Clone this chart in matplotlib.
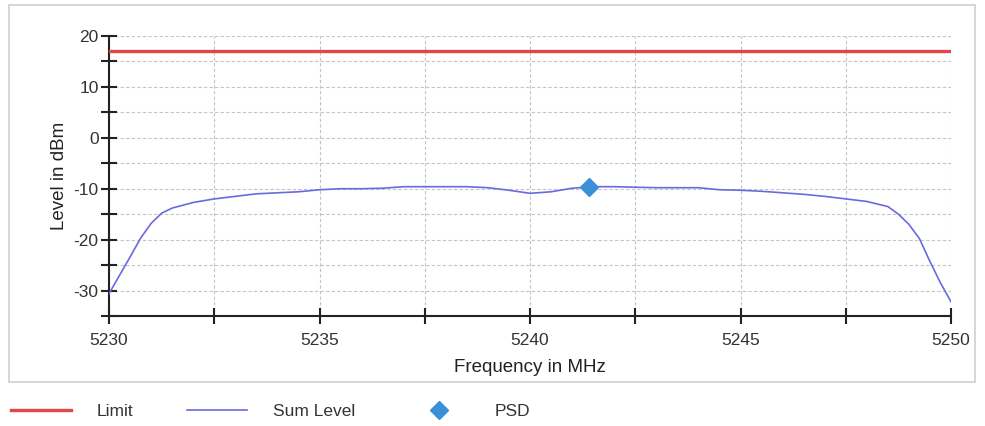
import numpy as np
import matplotlib
matplotlib.use("Agg")
from matplotlib import pyplot as plt
from matplotlib.patches import Rectangle
from matplotlib.ticker import MultipleLocator

plt.rcParams['font.family'] = ['Liberation Sans', 'DejaVu Sans']
plt.rcParams['axes.unicode_minus'] = False

# datos
freq = [5230, 5230.25, 5230.5, 5230.75, 5231, 5231.25, 5231.5, 5232, 5232.5, 5233,
        5233.5, 5234, 5234.5, 5235, 5235.5, 5236, 5236.5, 5237, 5237.5, 5238,
        5238.5, 5239, 5239.5, 5240, 5240.5, 5241, 5241.5, 5242, 5242.5, 5243,
        5243.5, 5244, 5244.5, 5245, 5245.5, 5246, 5246.5, 5247, 5247.5, 5248,
        5248.5, 5248.75, 5249, 5249.25, 5249.5, 5249.75, 5250]
sum_level = [-30.6, -27.0, -23.4, -19.7, -16.8, -14.8, -13.8, -12.7, -12.0, -11.5,
             -11.0, -10.8, -10.6, -10.2, -10.0, -10.0, -9.9, -9.6, -9.6, -9.6,
             -9.6, -9.8, -10.3, -10.9, -10.6, -9.9, -9.6, -9.6, -9.7, -9.8,
             -9.8, -9.8, -10.2, -10.3, -10.5, -10.8, -11.1, -11.5, -12.0, -12.5,
             -13.5, -15.0, -17.0, -19.8, -24.3, -28.5, -32.2]
limit_freq = [5230, 5250]
limit_level = [17, 17]
psd_freq = [5241.4]
psd_level = [-9.6]

fig = plt.figure(figsize=(9.85, 4.26), dpi=100)
ax = fig.add_axes([0.1107, 0.2582, 0.8548, 0.6573])

# marco exterior gris
fig.patches.append(Rectangle((9 / 985, 1 - 382 / 426), 966 / 985, 377 / 426,
                             transform=fig.transFigure, fill=False,
                             edgecolor="#cfcfcf", linewidth=1.2))

ax.plot(limit_freq, limit_level, color="#e04848", linewidth=2.4, label="Limit", zorder=3)
ax.plot(freq, sum_level, color="#6a6ae0", linewidth=1.2, label="Sum Level", zorder=4)
ax.plot(psd_freq, psd_level, linestyle="none", marker="D", markersize=9.5,
        color="#3a8fd8", label="PSD", zorder=5)

ax.set_xlim(5230, 5250)
ax.set_ylim(-35, 20)
ax.xaxis.set_major_locator(MultipleLocator(5))
ax.xaxis.set_minor_locator(MultipleLocator(2.5))
ax.yaxis.set_major_locator(MultipleLocator(10))
ax.yaxis.set_minor_locator(MultipleLocator(5))
ax.grid(True, which="both", color="#c4c4c4", linestyle=(0, (3, 2)), linewidth=0.8)
ax.set_axisbelow(True)

for s in ["top", "right"]:
    ax.spines[s].set_visible(False)
for s in ["left", "bottom"]:
    ax.spines[s].set_linewidth(1.5)
    ax.spines[s].set_color("#222222")

ax.tick_params(which="both", direction="inout", length=11, width=1.5, color="#222222",
               labelsize=12.5, labelcolor="#333333")
ax.tick_params(axis="x", pad=7)
ax.tick_params(axis="y", pad=2)
ax.set_xlabel("Frequency in MHz", fontsize=13.5, color="#222222", labelpad=8)
ax.set_ylabel("Level in dBm", fontsize=13.5, color="#222222", labelpad=4)

fig.legend(loc="center left", bbox_to_anchor=(-0.005, 1 - 411 / 426), ncol=3, frameon=False,
           fontsize=12.5, handlelength=3.45, handletextpad=1.5, columnspacing=3.1,
           labelcolor="#333333")

plt.savefig("out.png", dpi=100)
plt.close()
